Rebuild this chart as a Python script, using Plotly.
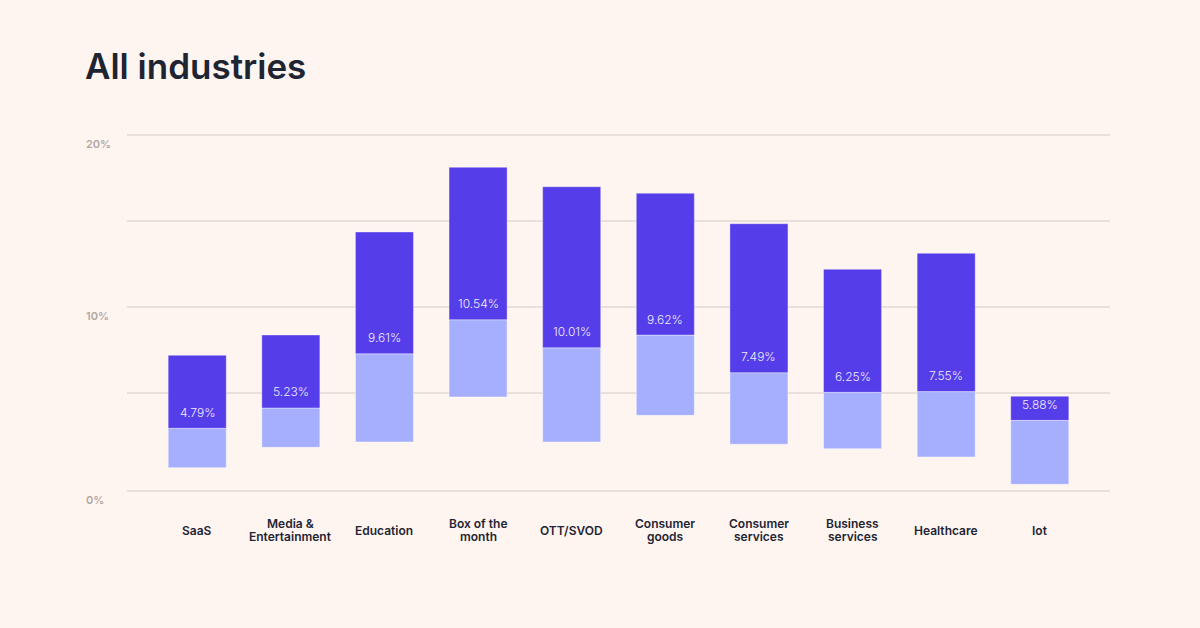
import plotly.graph_objects as go

# ---- data ----
categories = ["SaaS", "Media &<br>Entertainment", "Education", "Box of the<br>month", "OTT/SVOD",
              "Consumer<br>goods", "Consumer<br>services", "Business<br>services", "Healthcare", "Iot"]
low =    [0.66, 1.84, 2.15, 4.77, 2.15, 3.70, 2.02, 1.76, 1.28, -0.31]
median = [2.95, 4.13, 7.28, 9.26, 7.63, 8.37, 6.18, 5.04, 5.08, 3.41]
high =   [7.19, 8.37, 14.36, 18.12, 16.99, 16.61, 14.84, 12.19, 13.12, 4.81]
median_labels = ["4.79%", "5.23%", "9.61%", "10.54%", "10.01%", "9.62%", "7.49%", "6.25%", "7.55%", "5.88%"]
grid_vals = [-0.7, 5, 10, 15, 20]
tick_vals = [-0.7, 10, 20]
tick_text = ["0%", "10%", "20%"]

BG = "#fef5f1"
DARK = "#553ee9"
LIGHT = "#a5affe"
FONT = "Inter"

lower_h = [m - l for m, l in zip(median, low)]
upper_h = [h - m for h, m in zip(high, median)]

fig = go.Figure()
fig.add_trace(go.Bar(x=categories, y=lower_h, base=low, width=0.62,
                     marker=dict(color=LIGHT, line=dict(color="rgba(255,255,255,0.45)", width=1)),
                     hoverinfo="skip"))
fig.add_trace(go.Bar(x=categories, y=upper_h, base=median, width=0.62,
                     marker=dict(color=DARK, line=dict(color="rgba(255,255,255,0.35)", width=1)),
                     hoverinfo="skip"))

annotations = []
# median labels
for c, m, t in zip(categories, median, median_labels):
    annotations.append(dict(x=c, y=m, xref="x", yref="y", text=t, showarrow=False,
                            yshift=16, font=dict(family=FONT, size=12, color="#efecff", weight=300)))
# y tick labels
for v, t in zip(tick_vals, tick_text):
    annotations.append(dict(x=-0.0437, y=v, xref="paper", yref="y", text=t, showarrow=False,
                            xanchor="left", yanchor="middle", yshift=-9,
                            font=dict(family=FONT, size=11, color="#b2a8a4", weight=600)))
# category labels (line by line for tight spacing)
for c in categories:
    lines = c.split("<br>")
    n = len(lines)
    for k, ln in enumerate(lines):
        annotations.append(dict(x=c, y=0, xref="x", yref="paper", text=ln, showarrow=False,
                                yanchor="middle", yshift=-35 + ((n - 1) / 2 - k) * 12.5,
                                font=dict(family=FONT, size=12, color="#1f2433", weight=600)))

fig.update_layout(
    width=1200, height=628,
    paper_bgcolor=BG, plot_bgcolor=BG,
    margin=dict(l=127, r=90, t=130, b=133),
    barmode="overlay",
    showlegend=False,
    title=dict(text="All industries", x=85 / 1200, xref="container", xanchor="left",
               y=1 - 67 / 628, yref="container", yanchor="middle",
               font=dict(family=FONT, size=35, color="#1e2432", weight=600)),
    xaxis=dict(range=[-0.75, 9.75], showticklabels=False, showgrid=False, zeroline=False,
               showline=False, ticks=""),
    yaxis=dict(range=[-0.93, 20.29], tickvals=grid_vals, showticklabels=False,
               showgrid=True, gridcolor="#e9dfdb", gridwidth=1.5, zeroline=False, showline=False),
    annotations=annotations,
)

fig.write_html("out.html", config={"displayModeBar": False},
               post_script="document.body.style.margin='0';document.body.style.background='" + BG + "';")
